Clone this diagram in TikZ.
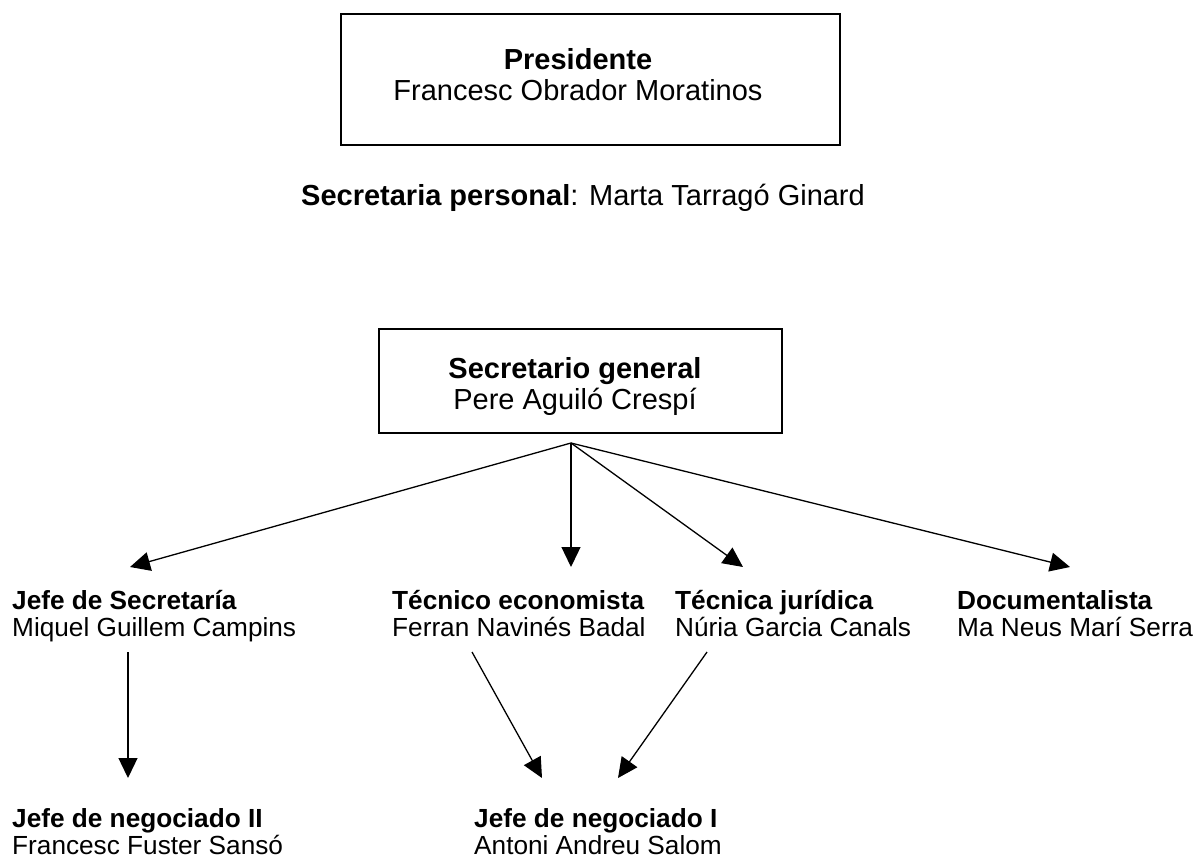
\documentclass[tikz,border=0pt]{standalone}
\usepackage{fontspec}
\setmainfont{Liberation Sans}
\usetikzlibrary{arrows.meta}
\newcommand{\leftpair}[2]{\vtop{\baselineskip=27pt\hbox{\bfseries #1}\hbox{#2}}}
\newcommand{\centerpair}[2]{\vtop{\baselineskip=31pt\halign{\hfil##\hfil\cr\bfseries #1\cr #2\cr}}}
\begin{document}
\begin{tikzpicture}[x=1pt,y=-1pt,
  boxstyle/.style={draw, line width=1.4pt, inner sep=0},
  bigtext/.style={font=\fontsize{29}{31}\selectfont, inner sep=0},
  smalltext/.style={font=\fontsize{26.2}{27}\selectfont, inner sep=0, anchor=base west},
  link/.style={line width=1.3pt, -{Triangle[length=20pt,width=19pt]}}]
\useasboundingbox (0,0) rectangle (1198,859);
\node[boxstyle, minimum width=499pt, minimum height=131pt] (prebox) at (590.5,79.5) {};
\node[bigtext, anchor=base] (pres) at (578,70) {\centerpair{Presidente}{Francesc Obrador Moratinos}};
\node[bigtext, anchor=base] (secp) at (583,205) {\textbf{Secretaria personal}: Marta Tarragó Ginard};
\node[boxstyle, minimum width=403pt, minimum height=104pt] (secbox) at (580.5,381) {};
\node[bigtext, anchor=base] (secg) at (575,378) {\centerpair{Secretario general}{Pere Aguiló Crespí}};
\coordinate (apex) at (571,443);
\coordinate (t1) at (130,567);
\coordinate (t2) at (571,567);
\coordinate (t3) at (743,567);
\coordinate (t4) at (1070,567);
\node[smalltext] (jsec) at (12,609) {\leftpair{Jefe de Secretaría}{Miquel Guillem Campins}};
\node[smalltext] (teco) at (392,609) {\leftpair{Técnico economista}{Ferran Navinés Badal}};
\node[smalltext] (tjur) at (675,609) {\leftpair{Técnica jurídica}{Núria Garcia Canals}};
\node[smalltext] (doc) at (957,609) {\leftpair{Documentalista}{Ma Neus Marí Serra}};
\node[smalltext] (jn2) at (12,827) {\leftpair{Jefe de negociado II}{Francesc Fuster Sansó}};
\node[smalltext] (jn1) at (474,827) {\leftpair{Jefe de negociado I}{Antoni Andreu Salom}};
\coordinate (s1) at (128,652);
\coordinate (e1) at (128,778);
\coordinate (s2) at (472,652);
\coordinate (e2) at (542,778);
\coordinate (s3) at (707,652);
\coordinate (e3) at (618,778);
\draw[link] (apex) -- (t1);
\draw[link] (apex) -- (t2);
\draw[link] (apex) -- (t3);
\draw[link] (apex) -- (t4);
\draw[link] (s1) -- (e1);
\draw[link] (s2) -- (e2);
\draw[link] (s3) -- (e3);
\end{tikzpicture}
\end{document}
